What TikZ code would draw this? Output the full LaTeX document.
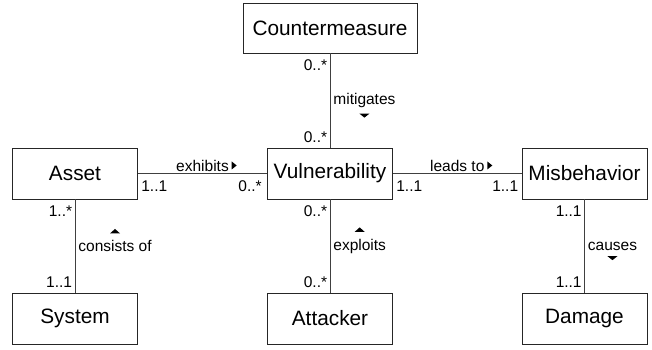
\documentclass[tikz,border=0pt]{standalone}
\usepackage{fontspec}
\setmainfont{Liberation Sans}
\usepackage{tikz}

\newcommand{\clsfont}{\fontsize{20.8}{24}\selectfont}
\newcommand{\relfont}{\fontsize{15.5}{18}\selectfont}

\begin{document}
\begin{tikzpicture}[x=1pt, y=-1pt,
  cls/.style={draw=black!85, line width=0.9pt, minimum width=125pt, minimum height=51pt, inner sep=0pt, font=\clsfont},
  link/.style={draw=black!75, line width=0.8pt},
  mult/.style={font=\relfont, inner sep=1.5pt},
  role/.style={font=\relfont, inner sep=1.5pt}]
  \useasboundingbox (0,0) rectangle (652,349);
  % class boxes -- centres in px of the 652x349 layout
  \foreach \n/\x/\y/\t in {asset/75/173.5/Asset, vuln/330/173.5/Vulnerability, misb/584.5/173.5/Misbehavior,
                           sys/75/318.5/System, att/330/318.5/Attacker, dmg/584.5/318.5/Damage}
    \node[cls] (\n) at (\x,\y) {\t};
  \node[cls, minimum width=174pt, minimum height=50pt] (cm) at (330,28) {Countermeasure};
  % horizontal associations
  \draw[link] (asset) -- (vuln)
    node[mult, pos=0, anchor=north west, xshift=1.5pt, yshift=-5pt] {1..1}
    node[mult, pos=1, anchor=north east, xshift=-3.5pt, yshift=-5pt] {0..*}
    node[role, midway, anchor=base, yshift=2.5pt] (exh) {exhibits};
  \draw[link] (vuln) -- (misb)
    node[mult, pos=0, anchor=north west, xshift=1.5pt, yshift=-5pt] {1..1}
    node[mult, pos=1, anchor=north east, xshift=-1.5pt, yshift=-5pt] {1..1}
    node[role, midway, anchor=base, yshift=2.5pt] (lead) {leads to};
  \fill[shift={(exh.east)}] (1,-4) -- (1,4) -- (6,0) -- cycle;
  \fill[shift={(lead.east)}] (1,-4) -- (1,4) -- (6,0) -- cycle;
  % vertical associations
  \draw[link] (cm) -- (vuln)
    node[mult, pos=0, anchor=north east, xshift=-1pt, yshift=-4.5pt] {0..*}
    node[mult, pos=1, anchor=south east, xshift=-1pt, yshift=3pt] {0..*}
    node[role, midway, anchor=west, xshift=1.5pt] (mit) {mitigates};
  \draw[link] (asset) -- (sys)
    node[mult, pos=0, anchor=north east, xshift=-1pt, yshift=-4.5pt] {1..*}
    node[mult, pos=1, anchor=south east, xshift=-1pt, yshift=3pt] {1..1}
    node[role, midway, anchor=west, xshift=1.5pt] (cons) {consists of};
  \draw[link] (vuln) -- (att)
    node[mult, pos=0, anchor=north east, xshift=-1pt, yshift=-4.5pt] {0..*}
    node[mult, pos=1, anchor=south east, xshift=-1pt, yshift=3pt] {0..*}
    node[role, midway, anchor=west, xshift=1.5pt] (expl) {exploits};
  \draw[link] (misb) -- (dmg)
    node[mult, pos=0, anchor=north east, xshift=-1pt, yshift=-4.5pt] {1..1}
    node[mult, pos=1, anchor=south east, xshift=-1pt, yshift=3pt] {1..1}
    node[role, midway, anchor=west, xshift=1.5pt] (caus) {causes};
  \fill[shift={(mit.south)}] (-5,4) -- (5,4) -- (0,8) -- cycle;
  \fill[shift={(caus.south)}] (-5,4) -- (5,4) -- (0,8) -- cycle;
  \fill[shift={(cons.north)}] (-5,-5) -- (5,-5) -- (0,-9.5) -- cycle;
  \fill[shift={(expl.north)}] (-5,-5) -- (5,-5) -- (0,-9.5) -- cycle;
\end{tikzpicture}
\end{document}
